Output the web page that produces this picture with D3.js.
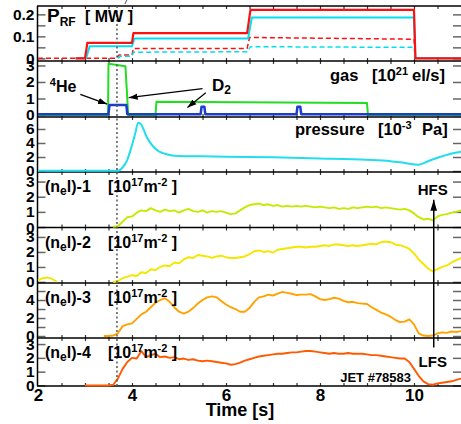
<!DOCTYPE html>
<html>
<head>
<meta charset="utf-8">
<script src="https://cdnjs.cloudflare.com/ajax/libs/d3/7.8.5/d3.min.js"></script>
<style>
  body { margin: 0; background: #fff; }
  svg { display: block; font-family: "Liberation Sans", Arial, sans-serif; font-weight: bold; }
</style>
</head>
<body>
<div class="canva"></div>
<script>
// ---- data (time in s) ----
// P_RF [MW]
const prfRed      = [[2.8,0],[3.0,0],[3.05,0.07],[4.0,0.07],[4.03,0.115],[6.45,0.115],[6.52,0.22],[10.0,0.22],[10.03,0],[11,0]];
const prfCyan     = [[2.8,0],[3.02,0],[3.1,0.055],[4.0,0.055],[4.05,0.09],[6.47,0.09],[6.55,0.186],[10.0,0.186],[10.03,0],[11,0]];
const prfRedDash  = [[2,0],[3.68,0],[3.72,0.015],[4.0,0.015],[4.03,0.045],[6.45,0.045],[6.5,0.095],[10.0,0.087],[10.03,0],[11,0]];
const prfCyanDash = [[3.7,0],[3.75,0.01],[4.0,0.01],[4.03,0.028],[6.45,0.03],[6.52,0.053],[10.0,0.05],[10.03,0],[11,0]];
// gas [10^21 el/s]
const gasD2 = [[2,0],[3.49,0],[3.5,3.1],[3.86,2.95],[3.92,0],[4.5,0],[4.52,0.8],[9.0,0.72],[9.02,0],[11,0]];
const gasHe = [[2,0.05],[3.5,0.05],[3.52,0.6],[3.88,0.6],[3.9,0.05],[5.46,0.05],[5.48,0.5],[5.54,0.5],[5.56,0.05],
               [7.5,0.05],[7.52,0.5],[7.58,0.5],[7.6,0.05],[11,0.05]];
// pressure [10^-3 Pa]
const pressure = [[2,0.05],[3.7,0.05],[3.8,0.5],[3.9,1.6],[4.0,3.7],[4.07,5.4],[4.13,6.9],[4.2,6.6],[4.31,4.9],
                  [4.45,3.5],[4.55,2.9],[4.66,2.55],[4.8,2.3],[5.0,2.15],[5.5,2.1],[6.0,2.05],[7.0,1.95],[8.0,1.8],
                  [9.0,1.6],[9.5,1.4],[9.8,1.15],[10.1,0.9],[10.3,1.4],[10.6,2.1],[10.8,2.5],[11.0,2.75]];
// line-integrated densities [10^17 m^-2], sampled every 0.1 s from the start time
const nel1Start = 3.6;
const nel1 = [0.02,0.05,0.35,0.65,
  0.7,0.95,1.1,1.05,1.25,1.1,1.0,1.15,1.05,1.1,
  0.95,1.1,1.2,1.05,1.0,1.1,0.95,1.05,1.0,1.05,
  0.95,0.85,0.9,1.1,1.3,1.45,1.5,1.55,1.45,1.5,
  1.4,1.45,1.35,1.4,1.35,1.4,1.35,1.4,1.35,1.3,
  1.35,1.3,1.25,1.3,1.2,1.25,1.2,1.3,1.25,1.3,
  1.35,1.3,1.35,1.25,1.3,1.25,1.2,1.15,1.2,1.1,
  0.9,0.65,0.5,0.55,0.45,0.7,0.8,0.85,0.95,1.0,
  1.1];
const nel2Start = 3.6;
const nel2 = [0.0,0.05,0.25,0.35,
  0.45,0.4,0.65,0.6,0.85,0.8,1.0,1.1,1.05,1.3,
  1.25,1.5,1.65,1.6,1.8,1.75,1.7,1.6,1.7,1.75,
  1.65,1.6,1.6,1.65,1.7,1.85,2.05,2.1,2.0,2.05,
  1.95,2.15,2.2,2.25,2.3,2.35,2.35,2.3,2.35,2.35,
  2.4,2.45,2.4,2.5,2.5,2.45,2.4,2.45,2.4,2.45,
  2.5,2.55,2.5,2.65,2.7,2.65,2.5,2.45,2.35,2.2,
  1.9,1.5,1.2,0.9,0.7,0.85,1.0,1.1,1.3,1.45,
  1.6];
const nel2Early = [[2.0,0.1],[2.1,0.25],[2.2,0.3],[2.3,0.2],[2.4,0.02]];
const nel3Start = 3.4;
const nel3 = [0.0,0.0,0.05,0.3,1.1,1.3,
  1.4,1.9,2.4,2.7,3.2,3.7,4.0,4.2,3.8,3.2,
  2.7,2.5,2.7,3.1,3.6,4.0,4.3,4.4,4.3,3.9,
  3.5,3.2,3.0,2.7,2.7,3.1,3.8,4.3,4.4,4.6,
  4.5,4.7,4.9,4.8,4.7,4.55,4.6,4.6,4.65,4.4,
  4.1,4.0,4.1,4.25,4.15,3.9,3.75,3.8,3.65,3.6,
  3.55,3.2,2.9,2.6,2.4,2.15,1.8,1.55,1.6,1.85,
  1.3,0.3,0.05,0.0,0.05,0.3,0.4,0.35,0.5,0.45,
  0.55];
const nel4Start = 3.0;
const nel4 = [0,0,0,0,0,0,0.05,0.5,1.2,1.7,
  2.0,1.95,2.5,2.05,2.2,2.3,2.05,2.1,2.0,2.05,
  1.9,1.95,1.85,1.9,1.8,1.75,1.8,1.75,1.7,1.65,
  1.6,1.5,1.55,1.65,1.8,1.9,2.0,2.1,2.15,2.2,
  2.25,2.3,2.3,2.35,2.4,2.4,2.45,2.5,2.5,2.45,
  2.4,2.35,2.3,2.35,2.3,2.3,2.35,2.3,2.3,2.3,
  2.25,2.2,2.2,2.15,2.1,2.05,2.0,1.95,1.95,1.7,
  1.2,0.7,0.3,0.1,0.05,0.15,0.2,0.25,0.3,0.4,
  0.5];
const xTickLabels = [2, 4, 6, 8, 10];
const tStart = 3.68;      // dotted marker
const tChord = 10.42;     // HFS-LFS arrow

const W = 461, H = 424;
const svg = d3.select('.canva').append('svg').attr('width', W).attr('height', H);

const x = d3.scaleLinear().domain([2, 11]).range([38, 461]);

const defs = svg.append('defs');
defs.append('marker').attr('id', 'ah').attr('viewBox', '0 0 10 10')
    .attr('refX', 10).attr('refY', 5).attr('markerWidth', 9).attr('markerHeight', 9)
    .attr('markerUnits', 'userSpaceOnUse').attr('orient', 'auto')
  .append('path').attr('d', 'M0,1.5L10,5L0,8.5z').attr('fill', '#000');
defs.append('marker').attr('id', 'ah2').attr('viewBox', '0 0 10 10')
    .attr('refX', 10).attr('refY', 5).attr('markerWidth', 11).attr('markerHeight', 11)
    .attr('markerUnits', 'userSpaceOnUse').attr('orient', 'auto')
  .append('path').attr('d', 'M0,2L10,5L0,8z').attr('fill', '#000');

// panels: pixel band + value domain
const panels = [
  {top: 6,     bot: 61,    dom: [-0.012, 0.238], ticks: [0,0.05,0.1,0.15,0.2], labels: [0,0.1,0.2]},
  {top: 61,    bot: 117,   dom: [-0.12, 3.27],   ticks: [0,1,2,3], labels: [0,1,2,3]},
  {top: 117,   bot: 172,   dom: [-0.14, 7.71],   ticks: [0,2,4,6], labels: [0,2,4,6]},
  {top: 172,   bot: 227.5, dom: [-0.03, 3.63],   ticks: [0,1,2,3], labels: [0,1,2,3]},
  {top: 227.5, bot: 283,   dom: [-0.07, 3.63],   ticks: [0,1,2,3], labels: [0,1,2,3]},
  {top: 283,   bot: 338,   dom: [-0.22, 5.89],   ticks: [0,1,2,3,4,5], labels: [0,2,4]},
  {top: 338,   bot: 386,   dom: [-0.04, 3.44],   ticks: [0,1,2,3], labels: [0,1,2,3]}
];
panels.forEach(p => { p.y = d3.scaleLinear().domain(p.dom).range([p.bot, p.top]); });

const minorT = d3.range(2.5, 11, 0.5);

// axes
panels.forEach((p, i) => {
  const left = svg.append('g').attr('transform', `translate(37.5,0)`)
    .call(d3.axisLeft(p.y).tickValues(p.ticks).tickSize(-8).tickPadding(3)
      .tickFormat(v => p.labels.includes(v) ? String(v) : ''));
  const right = svg.append('g').attr('transform', `translate(461,0)`)
    .call(d3.axisRight(p.y).tickValues(p.ticks).tickSize(-8).tickFormat(''));
  [left, right].forEach(g => {
    g.select('.domain').remove();
    g.selectAll('.tick line').attr('stroke', '#666').attr('stroke-width', 1.5);
    g.selectAll('.tick text').attr('font-size', 15.5).attr('font-weight', 'bold')
      .attr('fill', '#000').attr('font-family', '"Liberation Sans", Arial, sans-serif');
  });
  const bt = svg.append('g').attr('transform', `translate(0,${p.bot})`)
    .call(d3.axisBottom(x).tickValues(minorT).tickSize(-3).tickFormat(''));
  const tt = svg.append('g').attr('transform', `translate(0,${p.top})`)
    .call(d3.axisTop(x).tickValues(minorT).tickSize(-3).tickFormat(''));
  [bt, tt].forEach(g => {
    g.select('.domain').remove();
    g.selectAll('.tick line').attr('stroke', '#333').attr('stroke-width', 1.2);
  });
});

// bottom tick labels
const xa = svg.append('g').attr('transform', 'translate(0,386)')
  .call(d3.axisBottom(x).tickValues(xTickLabels).tickSize(0).tickPadding(3).tickFormat(d3.format('d')));
xa.select('.domain').remove();
xa.selectAll('.tick text').attr('font-size', 17).attr('font-weight', 'bold').attr('fill', '#000')
  .attr('font-family', '"Liberation Sans", Arial, sans-serif');

svg.append('text').attr('x', 240).attr('y', 416).attr('text-anchor', 'middle')
  .attr('font-size', 18).text('Time [s]');

// frame
const frame = svg.append('g').attr('stroke', '#000').attr('stroke-width', 1.5).attr('fill', 'none');
frame.append('line').attr('x1', 37.5).attr('x2', 37.5).attr('y1', 6).attr('y2', 386);
panels.forEach(p => {
  frame.append('line').attr('x1', 37).attr('x2', W).attr('y1', p.top).attr('y2', p.top);
});
frame.append('line').attr('x1', 37).attr('x2', W).attr('y1', 386).attr('y2', 386);

// lines
function draw(pIdx, pts, color, width, dash) {
  const y = panels[pIdx].y;
  const path = svg.append('path').datum(pts)
    .attr('fill', 'none').attr('stroke', color).attr('stroke-width', width)
    .attr('stroke-linejoin', 'round')
    .attr('d', d3.line().x(d => x(d[0])).y(d => y(d[1])));
  if (dash) path.attr('stroke-dasharray', dash);
}
function sampled(start, vals) { return vals.map((v, i) => [start + i * 0.1, v]); }

draw(0, prfRedDash, '#ff1010', 1.5, '5,3');
draw(0, prfCyanDash, '#00e0f0', 1.5, '5,3');
draw(0, prfCyan, '#00e0f0', 2);
draw(0, prfRed, '#ff1010', 2.2);

draw(1, gasD2, '#22dd22', 2);
draw(1, gasHe, '#1c3ccc', 2.5);

svg.append('path').datum(pressure).attr('fill', 'none').attr('stroke', '#22ddee').attr('stroke-width', 2)
  .attr('d', d3.line().curve(d3.curveMonotoneX).x(d => x(d[0])).y(d => panels[2].y(d[1])));

draw(3, sampled(nel1Start, nel1), '#c4ea00', 1.9);
draw(4, nel2Early, '#f4e600', 1.9);
draw(4, sampled(nel2Start, nel2), '#f4e600', 1.9);
draw(5, sampled(nel3Start, nel3), '#ffa200', 1.9);
draw(6, sampled(nel4Start, nel4), '#ff5a00', 1.9);

// dotted start marker
svg.append('line').attr('x1', x(tStart)).attr('x2', x(tStart)).attr('y1', 6).attr('y2', 386)
  .attr('stroke', '#555').attr('stroke-width', 1.5).attr('stroke-dasharray', '2,2.5');
svg.append('line').attr('x1', x(3.85)).attr('x2', x(3.89)).attr('y1', 4).attr('y2', 0)
  .attr('stroke', '#555').attr('stroke-width', 1);

// rich text helper: parts = [text, size, baseline offset, absolute x]
function rich(xp, yp, parts, anchor) {
  const t = svg.append('text').attr('x', xp).attr('y', yp).attr('text-anchor', anchor || 'start');
  let shift = 0;
  parts.forEach(p => {
    const s = t.append('tspan').text(p[0]).attr('font-size', p[1]);
    const off = p[2] || 0;
    if (off - shift) s.attr('dy', off - shift);
    if (p[3] != null) s.attr('x', p[3]);
    shift = off;
  });
  return t;
}

rich(47, 22, [['P', 19], ['RF', 12, 4], ['[ MW ]', 16, 0, 85]]);
rich(330, 81, [['gas', 16.5], ['[10', 16.5, 0, 372], ['21', 11, -6], ['el/s]', 16.5, 0, 412]]);
rich(295, 135, [['pressure', 16.5], ['[10', 16.5, 0, 378], ['-3', 11, -6], ['Pa]', 16.5, 0, 422]]);
[3, 4, 5, 6].forEach((pi, k) => {
  rich(45, panels[pi].top + 20, [['(n', 16], ['e', 12, 3], ['l)-' + (k + 1), 16],
    ['[10', 16, 0, 108], ['17', 11, -6], ['m', 16], ['-2', 11, -6], [' ]', 16]]);
});

// gas annotations
const yg = panels[1].y;
rich(x(2.25), yg(1.4), [['4', 11, -6], ['He', 16]]);
rich(x(5.7), yg(1.45), [['D', 17], ['2', 12, 3]]);
const ann = [
  [[2.9, 1.25], [3.47, 0.66]],
  [[5.5, 1.6], [3.93, 1.05]],
  [[5.57, 1.35], [5.18, 0.45]]
];
ann.forEach(a => {
  svg.append('line').attr('x1', x(a[0][0])).attr('y1', yg(a[0][1]))
    .attr('x2', x(a[1][0])).attr('y2', yg(a[1][1]))
    .attr('stroke', '#000').attr('stroke-width', 1.2).attr('marker-end', 'url(#ah)');
});

// HFS / LFS chord arrow
svg.append('line').attr('x1', x(tChord)).attr('x2', x(tChord))
  .attr('y1', panels[6].y(2.75)).attr('y2', panels[3].y(1.8))
  .attr('stroke', '#000').attr('stroke-width', 1.5).attr('marker-end', 'url(#ah2)');
svg.append('text').attr('x', x(tChord) - 1).attr('y', panels[3].y(2.1)).attr('text-anchor', 'middle')
  .attr('font-size', 15).text('HFS');
svg.append('text').attr('x', x(tChord) - 1).attr('y', panels[6].y(1.35)).attr('text-anchor', 'middle')
  .attr('font-size', 15).text('LFS');
svg.append('text').attr('x', x(8.43)).attr('y', panels[6].y(0.25))
  .attr('font-size', 13).text('JET #78583');
</script>
</body>
</html>
